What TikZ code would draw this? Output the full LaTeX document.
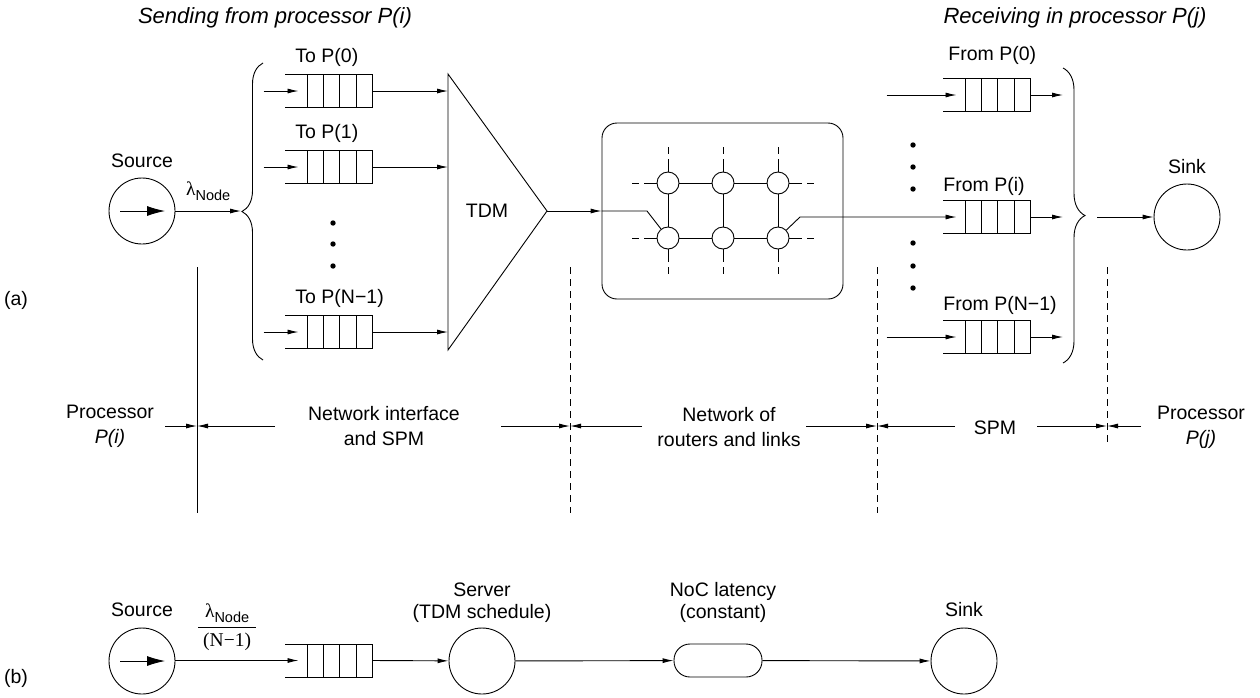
\documentclass[tikz,border=0pt]{standalone}
\usepackage{fontspec}
\setmainfont{Liberation Sans}
\newfontfamily\timesfont{Liberation Serif}
\usetikzlibrary{arrows.meta, positioning, calc, decorations.pathreplacing}

% Cola FIFO abierta por la izquierda, con cuatro celdas
\tikzset{
	queue/.pic = {
		\draw (-43.5,-16.5) -- (43.5,-16.5) -- (43.5,16.5) -- (-43.5,16.5);
		\foreach \cx in {-21.5,-5.5,10.5,27.5} \draw (\cx,-16.5) -- (\cx,16.5);
		\coordinate (-in) at (-30,0);
		\coordinate (-out) at (43.5,0);
		\coordinate (-nw) at (-43.5,-16.5);
	}
}
\newcommand{\lamnode}{{\timesfont λ}\raisebox{-4.5pt}{\fontsize{14.5}{16}\selectfont Node}}

\begin{document}
\begin{tikzpicture}[
		x=1pt, y=-1pt,
		line width=0.9pt,
		every node/.style = {inner sep=0pt, font=\fontsize{19.5}{25}\selectfont},
		headtext/.style = {font=\fontsize{22}{26}\selectfont\itshape},
		ring/.style = {draw, circle, minimum size=66pt},
		router/.style = {draw, circle, minimum size=22pt},
		pill/.style = {draw, rectangle, rounded corners=16pt, minimum width=88pt, minimum height=33pt},
		linkstub/.style = {dash pattern=on 13pt off 5pt on 7pt off 40pt},
		cutline/.style = {dash pattern=on 7pt off 5pt},
		>={Latex[length=11pt, width=5pt]}
		]
		\useasboundingbox (0,0) rectangle (1260,697);
		
		% --- TITULOS ---
		\node [headtext] (send_head) at (275,18) {Sending from processor P(i)};
		\node [headtext] (recv_head) at (1075,18) {Receiving in processor P(j)};
		
		% --- (a) EMISOR ---
		\node (tag_a) at (16,300) {(a)};
		\node [ring] (src) at (142,211) {};
		\node [above=9pt of src] (src_lbl) {Source};
		\draw [-{Latex[length=18pt, width=10pt]}] ([xshift=-22pt]src.center) -- ([xshift=23pt]src.center);
		
		\coordinate (brace_l) at (241,211);
		\draw [->] (src) -- node[above=10pt] (lam) {\lamnode} (brace_l);
		\draw [decorate, decoration={brace, amplitude=21pt}] (263,360) -- (263,63);
		
		% Colas de salida hacia cada procesador
		\pic (qs0) at (328.5,91) {queue};
		\pic (qs1) at (328.5,167) {queue};
		\pic (qsn) at (328.5,332) {queue};
		\node [above right=7.5pt and 10pt of qs0-nw] {To P(0)};
		\node [above right=7.5pt and 10pt of qs1-nw] {To P(1)};
		\node [above right=7.5pt and 10pt of qsn-nw] {To P(N−1)};
		\foreach \dy in {223,244,266} \fill (333,\dy) circle (2.7pt);
		
		% Multiplexor TDM
		\coordinate (tdm_top) at (448,74);
		\coordinate (tdm_tip) at (547,211);
		\coordinate (tdm_bot) at (448,350);
		\coordinate (tdm_base) at (448,211);
		\draw (tdm_top) -- (tdm_tip) -- (tdm_bot) -- cycle;
		\node (tdm) at (487,211) {TDM};
		
		\foreach \q in {qs0,qs1,qsn} {
			\draw [->] ([xshift=-35pt]\q-in) -- (\q-in);
			\draw [->] (\q-out) -- (\q-out -| tdm_base);
		}
		
		% --- RED DE ROUTERS ---
		\node [draw, rounded corners=15pt, minimum width=241pt, minimum height=176pt] (noc) at (722.5,211) {};
		\foreach \c/\cx in {1/668,2/723,3/778} {
			\node [router] (r1\c) at (\cx,183) {};
			\node [router] (r2\c) at (\cx,238) {};
			\draw (r1\c) -- (r2\c);
			\draw [linkstub] (r1\c.north) -- ++(0,-27);
			\draw [linkstub] (r2\c.south) -- ++(0,27);
		}
		\draw (r11) -- (r12) -- (r13);
		\draw (r21) -- (r22) -- (r23);
		\foreach \r in {1,2} {
			\draw [linkstub] (r\r1.west) -- ++(-27,0);
			\draw [linkstub] (r\r3.east) -- ++(27,0);
		}
		
		\coordinate (noc_in) at (647,211);
		\coordinate (noc_out) at (800,217);
		\draw [->] (tdm_tip) -- (tdm_tip -| noc.west);
		\draw (noc.west) -- (noc_in) -- (r21);
		
		% --- (a) RECEPTOR ---
		\pic (qr0) at (986.5,95) {queue};
		\pic (qri) at (986.5,217) {queue};
		\pic (qrn) at (986.5,337) {queue};
		\node [above right=14pt and 5pt of qr0-nw] {From P(0)};
		\node [above right=5pt and 0pt of qri-nw] {From P(i)};
		\node [above right=6pt and 0pt of qrn-nw] {From P(N−1)};
		\foreach \dy in {145,167,189,243,266,288} \fill (913,\dy) circle (2.7pt);
		
		\draw [->] (r23) -- (noc_out) -- (qri-in);
		\draw [->] ([xshift=-70pt]qr0-in) -- (qr0-in);
		\draw [->] ([xshift=-70pt]qrn-in) -- (qrn-in);
		\foreach \q in {qr0,qri,qrn}
			\draw [->] (\q-out) -- ([xshift=33pt]\q-out);
		\draw [decorate, decoration={brace, amplitude=22pt}] (1063,68) -- (1063,363);
		
		\node [ring] (sink) at (1187,217) {};
		\node [above=9pt of sink] (sink_lbl) {Sink};
		\coordinate (brace_r) at (1097,217);
		\draw [->] (brace_r) -- (sink);
		
		% --- LIMITES DE CADA TRAMO ---
		\coordinate (cut1) at (197,426);
		\coordinate (cut2) at (570,426);
		\coordinate (cut3) at (877,426);
		\coordinate (cut4) at (1107,426);
		\draw (197,267) -- (197,513);
		\draw [cutline] (570,267) -- (570,513);
		\draw [cutline] (877,267) -- (877,513);
		\draw [cutline] (1107,267) -- (1107,445);
		
		\draw [->] ([xshift=-32pt]cut1) -- (cut1);
		\draw [->] ([xshift=78pt]cut1) -- (cut1);
		\draw [->] ([xshift=-69pt]cut2) -- (cut2);
		\draw [->] ([xshift=72pt]cut2) -- (cut2);
		\draw [->] ([xshift=-71pt]cut3) -- (cut3);
		\draw [->] ([xshift=78pt]cut3) -- (cut3);
		\draw [->] ([xshift=-70pt]cut4) -- (cut4);
		\draw [->] ([xshift=34pt]cut4) -- (cut4);
		
		\node [align=center] (proc_i) at (110,426) {Processor\\\textit{P(i)}};
		\node [align=center] (ni_spm) at (384,426) {Network interface\\and SPM};
		\node [align=center] (net) at (729,427) {Network of\\routers and links};
		\node (spm) at (995,428) {SPM};
		\node [align=center] (proc_j) at (1201,427) {Processor\\\textit{P(j)}};
		
		% --- (b) MODELO DE COLAS ---
		\node (tag_b) at (16,678) {(b)};
		\node [ring] (src_b) at (142,661) {};
		\node [above=10pt of src_b] (src_b_lbl) {Source};
		\draw [-{Latex[length=18pt, width=10pt]}] ([xshift=-22pt]src_b.center) -- ([xshift=23pt]src_b.center);
		
		\pic (qb) at (328.5,660.5) {queue};
		\draw [->] (src_b.east |- qb-in) -- node[above=6pt, pos=0.42] (lam_frac) {\setlength\arrayrulewidth{0.8pt}\begin{tabular}{@{\hspace{5pt}}c@{\hspace{5pt}}}\lamnode\\[1.4pt]\hline\rule{0pt}{19pt}{\timesfont(N−1)}\end{tabular}} (qb-in);
		
		\node [ring] (srv) at (482,661) {};
		\node [above=5pt of srv, align=center, font=\fontsize{19.5}{22}\selectfont] (srv_lbl) {Server\\(TDM schedule)};
		\node [pill] (lat) at (718,660.5) {};
		\node [above=21pt of lat, xshift=5pt, align=center, font=\fontsize{19.5}{22}\selectfont] (lat_lbl) {NoC latency\\(constant)};
		\node [ring] (sink_b) at (964,661) {};
		\node [above=10pt of sink_b] (sink_b_lbl) {Sink};
		
		\draw [->] (qb-out) -- (srv);
		\draw [->] (srv) -- (lat);
		\draw [->] (lat) -- (sink_b);
		
	\end{tikzpicture}
\end{document}
